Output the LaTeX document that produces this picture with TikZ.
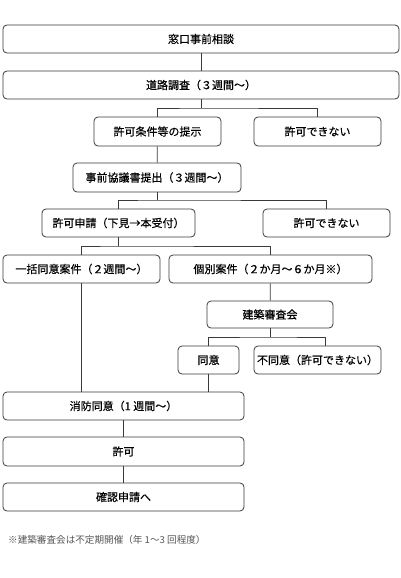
\documentclass[tikz,border=0pt]{standalone}
\usepackage{fontspec}
\setmainfont[FakeBold=0.5]{Noto Sans CJK JP}
\newfontfamily\notefont{Noto Sans CJK JP}
\usepackage{xcolor}
\definecolor{boxline}{HTML}{3A3A3A}
\definecolor{notegray}{HTML}{555555}

\begin{document}
\begin{tikzpicture}[x=1pt, y=-1pt,
    flowbox/.style={draw=boxline, line width=0.8pt, rounded corners=4pt, inner sep=0pt,
        minimum height=28pt, font=\fontsize{11}{13}\selectfont},
    link/.style={draw=boxline, line width=0.8pt}]
       \useasboundingbox (0,0) rectangle (400,578);

       \node[flowbox, minimum width=396pt] (A) at (201,39) {窓口事前相談};
       \node[flowbox, minimum width=396pt] (B) at (201,85) {道路調査（３週間～）};
       \node[flowbox, minimum width=127pt, minimum height=29pt] (C) at (157.5,131.5) {許可条件等の提示};
       \node[flowbox, minimum width=127pt, minimum height=29pt] (D) at (317.5,131.5) {許可できない};
       \node[flowbox, minimum width=168pt, minimum height=29pt] (E) at (157,177.5) {事前協議書提出（３週間～）};
       \node[flowbox, minimum width=153pt] (F) at (118.5,223) {許可申請（下見→本受付）};
       \node[flowbox, minimum width=127pt] (G) at (326.5,223) {許可できない};
       \node[flowbox, minimum width=157pt] (H) at (81.5,269) {一括同意案件（２週間～）};
       \node[flowbox, minimum width=203pt] (I) at (270.5,269) {個別案件（２か月～６か月※）};
       \node[flowbox, minimum width=126pt, minimum height=27pt] (J) at (270,314.5) {建築審査会};
       \node[flowbox, minimum width=61pt] (K) at (208.5,360) {同意};
       \node[flowbox, minimum width=127pt] (L) at (317.5,360) {不同意（許可できない）};
       \node[flowbox, minimum width=241pt] (M) at (123.5,406) {消防同意（1 週間～）};
       \node[flowbox, minimum width=241pt, minimum height=29pt] (N) at (123.5,451.5) {許可};
       \node[flowbox, minimum width=241pt] (O) at (123.5,497) {確認申請へ};

       \node[anchor=west, inner sep=0pt, text=notegray, font=\notefont\fontsize{9.6}{11}\selectfont] (note) at (8,540)
           {※建築審査会は不定期開催（年 1～3 回程度）};

       % branch points
       \coordinate (j1) at (201,108);
       \coordinate (j2) at (157,200);
       \coordinate (j3) at (118.5,246);
       \coordinate (j4) at (270,337);

       \draw [link] (A) -- (B);
       \draw [link] (B) -- (j1);
       \draw [link] (C.north) |- (j1) -| (D.north);
       \draw [link] (C) -- (E);
       \draw [link] (E) -- (j2);
       \draw [link] (F.north) |- (j2) -| (G.north);
       \draw [link] (F) -- (j3);
       \draw [link] (H.north) |- (j3) -| (I.north);
       \draw [link] (I) -- (J);
       \draw [link] (J) -- (j4);
       \draw [link] (K.north) |- (j4) -| ([xshift=7.5pt]L.north);
       \draw [link] (H.south) -- (H.south |- M.north);
       \draw [link] (K.south) -- (K.south |- M.north);
       \draw [link] (M) -- (N);
       \draw [link] (N) -- (O);
    \end{tikzpicture}
\end{document}
